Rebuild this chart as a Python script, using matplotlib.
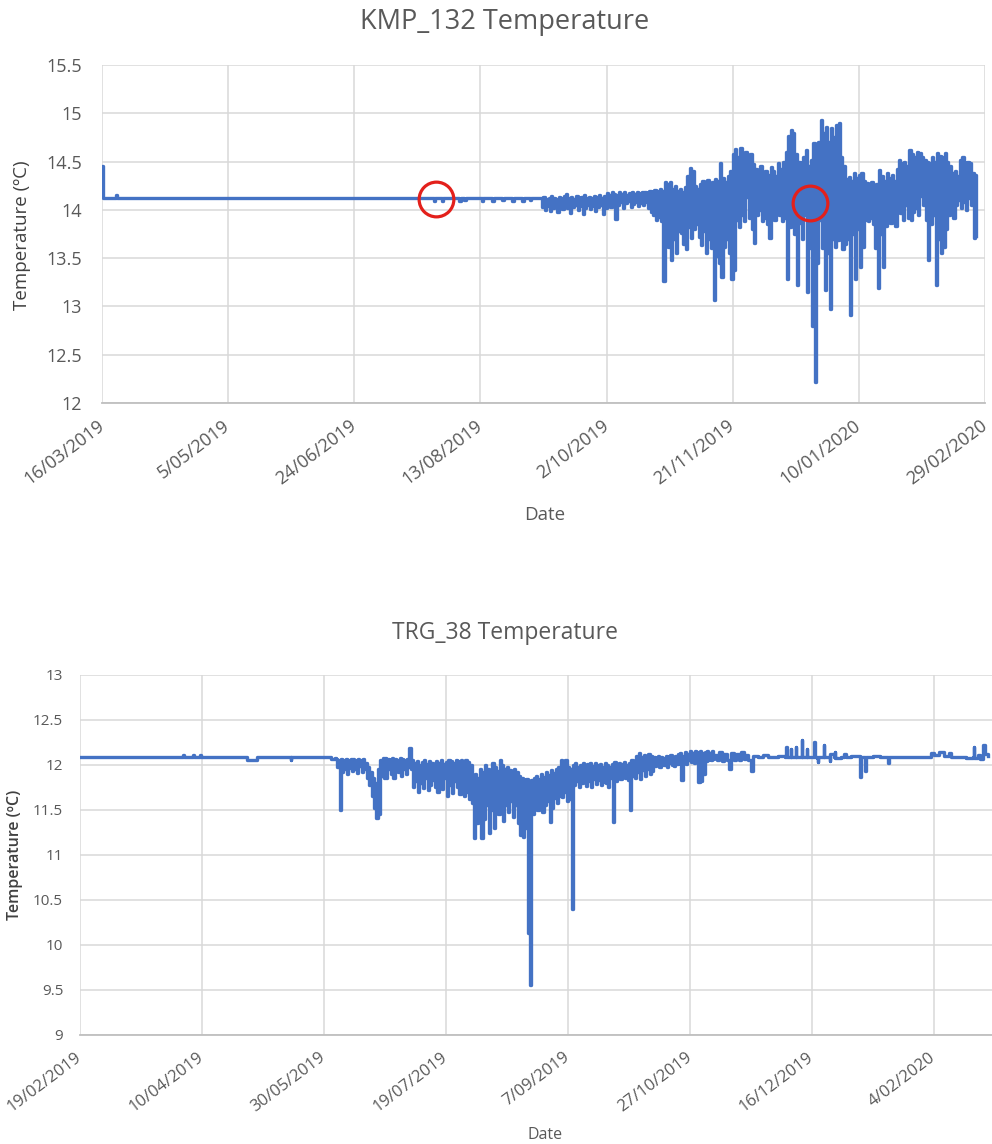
import numpy as np
import pandas as pd
import matplotlib
matplotlib.use('Agg')
from matplotlib import pyplot as plt
from matplotlib.ticker import FixedLocator, FuncFormatter
from matplotlib import dates as mdates

plt.rcParams['font.family'] = ['Open Sans', 'DejaVu Sans']

# -----------------
# KMP_132 logger
# -----------------
KMP_START = '2019-03-16'

# settled period: sparse readings, offsets in days from KMP_START
kmp_quiet_day = [0, 0.3, 5, 5.5, 6, 131, 131.6, 132.2, 134, 134.6, 135.2, 141, 141.6, 142.2,
                 143, 143.6, 144.2, 150, 150.6, 151.2, 154, 154.6, 155.2, 158, 158.6, 159.2,
                 162, 162.6, 163.2, 166, 166.6, 167.2, 169, 169.6, 170.2, 173]
kmp_quiet_temp = [14.45, 14.12, 14.12, 14.15, 14.12, 14.12, 14.09, 14.12, 14.12, 14.09, 14.12, 14.12,
                  14.09, 14.12, 14.12, 14.10, 14.12, 14.12, 14.09, 14.12, 14.12, 14.09, 14.12, 14.12,
                  14.10, 14.12, 14.12, 14.09, 14.12, 14.12, 14.09, 14.12, 14.12, 14.10, 14.12, 14.12]

# fluctuating period: daily high / low from day 174 onwards
KMP_DAILY_FROM = 174
kmp_daily_high = [
    14.12, 14.13, 14.11, 14.12, 14.14, 14.12, 14.11, 14.13, 14.12, 14.14,
    14.16, 14.12, 14.13, 14.11, 14.14, 14.12, 14.13, 14.15, 14.12, 14.13,
    14.12, 14.14, 14.13, 14.15, 14.12, 14.14, 14.17, 14.15, 14.18, 14.16,
    14.15, 14.18, 14.16, 14.19, 14.15, 14.17, 14.18, 14.16, 14.19, 14.17,
    14.18, 14.19, 14.17, 14.20, 14.19, 14.21, 14.20, 14.22, 14.20, 14.29,
    14.27, 14.29, 14.22, 14.25, 14.20, 14.22, 14.19, 14.24, 14.35, 14.43,
    14.40, 14.25, 14.22, 14.27, 14.30, 14.28, 14.31, 14.26, 14.29, 14.32,
    14.30, 14.48, 14.33, 14.29, 14.35, 14.40, 14.58, 14.63, 14.55, 14.64,
    14.55, 14.60, 14.52, 14.58, 14.47, 14.42, 14.38, 14.45, 14.33, 14.40,
    14.36, 14.44, 14.40, 14.35, 14.48, 14.42, 14.50, 14.60, 14.76, 14.83,
    14.80, 14.58, 14.50, 14.48, 14.55, 14.62, 14.45, 14.52, 14.69, 14.60,
    14.70, 14.93, 14.80, 14.86, 14.70, 14.85, 14.75, 14.88, 14.90, 14.55,
    14.45, 14.32, 14.34, 14.30, 14.38, 14.33, 14.36, 14.38, 14.30, 14.28,
    14.25, 14.29, 14.22, 14.27, 14.41, 14.35, 14.30, 14.38, 14.33, 14.36,
    14.30, 14.42, 14.52, 14.48, 14.50, 14.45, 14.62, 14.58, 14.55, 14.60,
    14.59, 14.55, 14.52, 14.50, 14.48, 14.55, 14.50, 14.59, 14.56, 14.55,
    14.59, 14.50, 14.45, 14.38, 14.40, 14.35, 14.52, 14.55, 14.48, 14.50,
    14.48, 14.38, 14.36]
kmp_daily_low = [
    14.03, 14.00, 14.04, 13.99, 14.02, 14.05, 13.98, 14.03, 14.01, 14.04,
    14.02, 13.97, 14.03, 14.05, 14.00, 14.04, 13.96, 14.02, 14.05, 14.01,
    14.04, 13.99, 14.03, 14.05, 13.96, 14.02, 14.06, 14.03, 14.08, 13.91,
    14.05, 14.08, 14.02, 14.07, 14.09, 14.03, 14.06, 14.08, 14.04, 14.07,
    14.05, 14.08, 14.02, 13.98, 13.95, 13.90, 13.93, 13.88, 13.26, 13.85,
    13.62, 13.48, 13.70, 13.55, 13.78, 13.76, 13.65, 13.59, 13.82, 13.71,
    13.80, 13.85, 13.72, 13.64, 13.78, 13.55, 13.70, 13.60, 13.07, 13.52,
    13.45, 13.31, 13.62, 13.70, 13.55, 13.28, 13.38, 13.90, 13.82, 13.95,
    13.88, 14.13, 13.92, 13.80, 13.66, 13.95, 14.00, 13.88, 13.92, 13.85,
    13.71, 13.98, 13.90, 14.02, 13.95, 13.88, 13.92, 13.28, 13.82, 13.90,
    13.75, 13.22, 13.86, 13.70, 13.95, 13.15, 13.60, 12.80, 12.22, 13.45,
    13.90, 13.60, 13.17, 13.55, 12.97, 13.70, 13.62, 13.69, 13.80, 13.59,
    13.65, 13.70, 12.91, 13.75, 13.28, 13.80, 13.41, 13.62, 13.90, 13.88,
    13.92, 13.85, 13.60, 13.19, 13.75, 13.41, 13.83, 13.92, 13.86, 13.95,
    13.83, 14.00, 13.97, 13.90, 14.05, 13.92, 13.90, 13.98, 14.02, 13.95,
    14.14, 14.05, 13.90, 13.48, 13.85, 13.95, 13.22, 13.70, 13.55, 13.62,
    13.80, 13.95, 14.00, 13.92, 14.05, 14.10, 14.02, 14.08, 14.00, 14.12,
    14.05, 13.71, 13.73]

kmp_circle_day = [132.4, 280.6]
kmp_circle_temp = [14.11, 14.07]

# -----------------
# TRG_38 logger
# -----------------
TRG_START = '2019-02-19'

trg_head_day = [0, 42, 42.3, 42.6, 46, 46.3, 46.6, 49, 49.3, 49.6, 68, 68.5, 72, 72.5,
                86, 86.3, 86.6, 102, 103, 104.5]
trg_head_temp = [12.09, 12.09, 12.11, 12.09, 12.09, 12.11, 12.09, 12.09, 12.11, 12.09, 12.09,
                 12.06, 12.06, 12.09, 12.09, 12.06, 12.09, 12.09, 12.07, 12.08]

TRG_DAILY_FROM = 105
trg_daily_high = [
    12.07, 12.06, 12.07, 12.05, 12.07, 12.06, 12.07, 12.07, 12.05, 12.07,
    12.06, 12.07, 12.02, 11.98, 11.92, 11.85, 11.80, 11.95, 12.06, 12.08,
    12.08, 12.07, 12.06, 12.08, 12.07, 12.06, 12.08, 12.07, 12.05, 12.07,
    12.19, 12.05, 12.02, 12.04, 12.00, 12.03, 12.05, 12.01, 12.04, 12.02,
    12.00, 12.04, 12.02, 12.05, 12.01, 12.03, 12.06, 12.04, 12.02, 12.05,
    12.04, 12.06, 12.02, 12.05, 12.03, 12.00, 11.84, 11.90, 11.86, 11.95,
    11.92, 12.00, 11.95, 11.88, 12.02, 11.98, 11.93, 12.05, 12.00, 11.96,
    11.98, 11.94, 11.90, 11.96, 11.92, 11.88, 11.85, 11.83, 11.84, 11.80,
    11.83, 11.85, 11.88, 11.84, 11.90, 11.87, 11.92, 11.89, 11.94, 11.91,
    11.95, 11.98, 12.05, 12.04, 12.06, 11.98, 11.96, 12.00, 12.02, 11.98,
    12.00, 12.02, 11.98, 12.01, 12.02, 11.99, 12.02, 12.00, 12.01, 11.98,
    12.02, 12.00, 11.98, 12.01, 12.03, 12.00, 12.02, 12.01, 12.03, 12.00,
    12.02, 12.05, 12.03, 12.10, 12.13, 12.09, 12.11, 12.08, 12.12, 12.10,
    12.09, 12.08, 12.10, 12.09, 12.08, 12.10, 12.09, 12.11, 12.08, 12.10,
    12.12, 12.13, 12.10, 12.14, 12.12, 12.15, 12.13, 12.16, 12.14, 12.15,
    12.13, 12.14, 12.16, 12.13, 12.15]
trg_daily_low = [
    11.98, 11.50, 11.92, 11.95, 11.90, 11.97, 11.93, 11.96, 11.91, 11.99,
    11.92, 11.95, 11.85, 11.78, 11.65, 11.52, 11.41, 11.45, 11.88, 11.85,
    11.86, 11.95, 11.90, 11.85, 11.97, 11.92, 11.88, 11.95, 11.90, 11.98,
    11.95, 11.75, 11.82, 11.70, 11.80, 11.74, 11.85, 11.72, 11.78, 11.83,
    11.76, 11.70, 11.80, 11.73, 11.85, 11.66, 11.78, 11.69, 11.82, 11.75,
    11.68, 11.72, 11.65, 11.70, 11.62, 11.58, 11.19, 11.35, 11.45, 11.19,
    11.40, 11.55, 11.24, 11.50, 11.30, 11.58, 11.45, 11.62, 11.38, 11.55,
    11.48, 11.60, 11.42, 11.55, 11.35, 11.22, 11.20, 11.30, 10.13, 9.56,
    11.45, 11.58, 11.50, 11.62, 11.48, 11.55, 11.60, 11.37, 11.52, 11.63,
    11.58, 11.66, 11.64, 11.70, 11.60, 11.62, 10.40, 11.78, 11.82, 11.76,
    11.80, 11.83, 11.77, 11.82, 11.76, 11.84, 11.79, 11.83, 11.78, 11.81,
    11.80, 11.76, 11.85, 11.37, 11.82, 11.88, 11.84, 11.90, 11.86, 11.83,
    11.50, 11.88, 11.85, 11.92, 11.84, 11.94, 11.88, 11.95, 11.90, 11.93,
    11.99, 12.02, 11.98, 12.01, 12.00, 11.98, 12.02, 12.00, 11.99, 12.01,
    12.02, 11.83, 12.04, 12.01, 12.05, 12.03, 12.02, 12.04, 11.81, 11.82,
    11.90, 12.04, 12.06, 12.05, 12.07]

trg_tail_day = [260, 261, 262, 263, 264, 265, 266, 267, 268, 269, 270, 271, 272, 273, 274, 275,
                276, 278, 280, 282, 286, 289, 289.3, 289.6, 291, 291.3, 291.6, 293, 293.3, 293.6,
                295.5, 295.8, 296.1, 297.5, 297.8, 298.1, 300.5, 300.8, 301.1, 302, 302.3, 302.6,
                304.5, 304.8, 305.1, 307, 307.3, 307.6, 309, 309.3, 309.6, 312, 313, 314, 316,
                319.5, 319.8, 320.1, 321.5, 321.8, 322.1, 325, 328, 331, 331.3, 331.6, 340, 348,
                349, 350, 352, 354, 356, 357, 362, 363, 366, 366.3, 366.6, 368, 369, 370, 370.3,
                371, 372]
trg_tail_temp = [12.11, 12.05, 12.14, 12.04, 12.12, 12.06, 11.96, 12.13, 12.05, 12.12, 12.06, 12.14,
                 12.07, 12.11, 12.06, 11.93, 12.10, 12.09, 12.11, 12.09, 12.10, 12.09, 12.20, 12.09,
                 12.09, 12.18, 12.09, 12.09, 12.20, 12.09, 12.09, 12.28, 12.09, 12.09, 12.18, 12.09,
                 12.09, 12.26, 12.09, 12.08, 12.03, 12.09, 12.09, 12.22, 12.09, 12.09, 12.04, 12.12,
                 12.09, 12.14, 12.08, 12.09, 12.12, 12.09, 12.10, 12.09, 11.87, 12.09, 12.09, 11.93,
                 12.09, 12.10, 12.09, 12.09, 12.02, 12.09, 12.09, 12.09, 12.13, 12.11, 12.14, 12.10,
                 12.13, 12.09, 12.09, 12.08, 12.09, 12.20, 12.08, 12.11, 12.07, 12.15, 12.22, 12.12,
                 12.10]

LINE_BLUE = '#4472C4'
GRID_GREY = '#D9D9D9'
TEXT_GREY = '#595959'


def zigzag(first_day, highs, lows):
    """ interleave daily high / low readings into one trace """
    days = first_day + np.arange(len(highs))
    x = np.column_stack([days, days + 0.5]).ravel()
    y = np.column_stack([highs, lows]).ravel()
    return x, y


def to_dates(start, offsets):
    return pd.Timestamp(start) + pd.to_timedelta(np.asarray(offsets, dtype=float), unit='D')


def date_label(x, _pos):
    d = mdates.num2date(x)
    return f'{d.day}/{d.month:02d}/{d.year}'


def style_axes(ax, start, n_ticks, x_end, ylim, ystep, fontsize, xfontsize, xpad):
    tick_dates = to_dates(start, np.arange(n_ticks) * 50)
    ax.set_xlim(pd.Timestamp(start), to_dates(start, [x_end])[0])
    ax.xaxis.set_major_locator(FixedLocator(mdates.date2num(tick_dates)))
    ax.xaxis.set_major_formatter(FuncFormatter(date_label))

    ax.set_ylim(*ylim)
    ax.set_yticks(np.arange(ylim[0], ylim[1] + ystep / 2, ystep))
    ax.yaxis.set_major_formatter(FuncFormatter(lambda v, _p: f'{v:g}'))

    ax.grid(True, color=GRID_GREY, linewidth=1.1)
    ax.set_axisbelow(True)
    for side in ('top', 'right', 'left'):
        ax.spines[side].set_visible(False)
    ax.spines['bottom'].set_color('#BFBFBF')
    ax.spines['bottom'].set_linewidth(1.3)

    ax.tick_params(axis='both', length=0, labelcolor=TEXT_GREY)
    ax.tick_params(axis='y', labelsize=fontsize, pad=fontsize * 1.1)
    ax.tick_params(axis='x', labelsize=xfontsize, pad=xpad)
    for lbl in ax.get_xticklabels():
        lbl.set_rotation(37)
        lbl.set_ha('right')
        lbl.set_va('center')
        lbl.set_rotation_mode('anchor')


fig = plt.figure(figsize=(9.92, 11.44), dpi=100)

# KMP_132 panel
ax_kmp = fig.add_axes([0.1028, 0.6477, 0.8901, 0.2955])
kmp_x, kmp_y = zigzag(KMP_DAILY_FROM, kmp_daily_high, kmp_daily_low)
kmp_days = np.concatenate([kmp_quiet_day, kmp_x])
kmp_temps = np.concatenate([kmp_quiet_temp, kmp_y])
ax_kmp.plot(to_dates(KMP_START, kmp_days), kmp_temps, color=LINE_BLUE, linewidth=2.4,
            drawstyle='steps-post')
ax_kmp.plot(to_dates(KMP_START, kmp_circle_day), kmp_circle_temp, linestyle='none', marker='o',
            markersize=25, markerfacecolor='none', markeredgecolor='#E3201B', markeredgewidth=2.3,
            zorder=5)
style_axes(ax_kmp, KMP_START, 8, 350, (12, 15.5), 0.5, 13, 13, 15)

fig.text(0.509, 0.9808, 'KMP_132 Temperature', ha='center', va='center', fontsize=19.5, color=TEXT_GREY)
fig.text(0.549, 0.5498, 'Date', ha='center', va='center', fontsize=13.5, color=TEXT_GREY)
fig.text(0.0222, 0.7946, 'Temperature (ºC)', ha='center', va='center', rotation=90, fontsize=13.5,
         color='#404040')

# TRG_38 panel
ax_trg = fig.add_axes([0.0806, 0.0953, 0.9248, 0.3147])
trg_x, trg_y = zigzag(TRG_DAILY_FROM, trg_daily_high, trg_daily_low)
trg_days = np.concatenate([trg_head_day, trg_x, trg_tail_day])
trg_temps = np.concatenate([trg_head_temp, trg_y, trg_tail_temp])
ax_trg.plot(to_dates(TRG_START, trg_days), trg_temps, color=LINE_BLUE, linewidth=2.4,
            drawstyle='steps-post')
style_axes(ax_trg, TRG_START, 8, 376, (9, 13), 0.5, 11, 12, 15)

fig.text(0.509, 0.4467, 'TRG_38 Temperature', ha='center', va='center', fontsize=16.5, color=TEXT_GREY)
fig.text(0.549, 0.0079, 'Date', ha='center', va='center', fontsize=11.5, color=TEXT_GREY)
fig.text(0.0151, 0.2526, 'Temperature (ºC)', ha='center', va='center', rotation=90, fontsize=11.5,
         fontweight='semibold', color='#404040')

fig.savefig('out.png', dpi=100)
